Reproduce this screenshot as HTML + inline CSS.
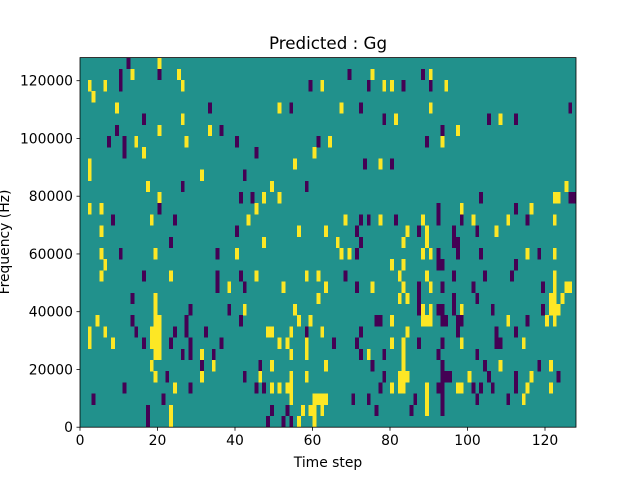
<!DOCTYPE html>
<html><head><meta charset="utf-8"><style>
html,body{margin:0;padding:0;background:#fff;}
svg{display:block;font-family:"DejaVu Sans","Liberation Sans",sans-serif;}
</style></head><body>
<svg id="s" width="640" height="480" xmlns="http://www.w3.org/2000/svg">
<rect x="0" y="0" width="640" height="480" fill="#fff"/>
<rect x="80" y="57.6" width="496" height="369.6" fill="#21918c"/>
<g id="cells" shape-rendering="crispEdges"></g>
<rect x="80" y="57.6" width="496" height="369.6" fill="none" stroke="#000" stroke-width="0.8"/>
<text x="328" y="49" font-size="16.7" text-anchor="middle">Predicted : Gg</text>
<g id="ticks" font-size="13.9" fill="#000"></g>
<text x="328" y="467" font-size="13.9" text-anchor="middle">Time step</text>
<text transform="translate(9,242) rotate(-90)" font-size="13.9" text-anchor="middle">Frequency (Hz)</text>
</svg>
<script>
var rows=[
"P12 Y20",
"P10 Y13 P20 Y25 P69 Y75 P88 Y90",
"P10 Y2 Y6 Y26 P59 Y62 P74 Y78 Y80 P83 P90 Y94",
"Y3",
"Y9 P33 Y51 P54 Y67 P72 Y90 P126",
"P16 Y26 P78 Y81 P105 Y108 P112",
"P9 Y20 Y33 P36 P93 Y97",
"P7 P11 Y14 Y27 P40 P61 Y64 P89 Y93",
"P11 Y16 P45 Y60",
"Y2 Y55 P73 Y77 P80",
"Y2 Y31 P42",
"Y17 P26 Y49 P58 Y125",
"Y20 P41 P44 Y47 Y51 P103 Y122 Y123 P126 P127",
"Y2 Y5 P20 Y45 P92 Y98 P112 Y116",
"P8 Y18 P24 Y43 Y68 P72 P74 Y77 P81 Y88 P92 P98 Y101 Y110 P115 Y122",
"Y5 P40 Y56 Y63 P71 Y84 P87 Y89 P96 P102 Y107",
"P23 Y47 Y66 P72 Y83 Y89 P96 P97",
"Y5 P10 Y19 P35 Y40 Y67 Y69 P71 Y88 Y90 P92 P97 P103 Y115 P118 Y122",
"Y6 Y80 Y83 P92 P93 P112",
"Y5 P16 Y23 P35 P41 Y45 Y58 Y61 P68 Y82 Y89 P96 P104 P111 Y122",
"P35 Y38 P42 Y52 Y63 P71 Y75 Y83 P87 Y90 P93 P101 P119 Y122 Y125 Y126",
"P13 Y19 Y61 Y82 Y84 P87 P96 P102 Y121 Y122 Y124",
"P28 Y19 P38 Y42 Y55 P87 Y88 Y90 P92 P93 P96 Y98 P106 P119 Y121 Y122 Y123",
"Y4 P13 Y19 Y20 P27 P41 Y56 Y59 P76 P77 Y80 Y88 Y89 Y90 P93 P94 P97 P98 Y110 P115 Y120 Y122",
"Y2 Y6 P14 Y18 Y19 Y20 P24 P27 P32 Y48 Y49 Y54 P58 Y62 P72 Y84 P97 P107 P112",
"Y2 Y8 P16 Y18 Y19 Y20 P23 P28 P36 Y51 Y53 Y58 P65 P71 Y80 Y83 P87 P93 Y98 P107 P108 Y114",
"Y19 Y20 P26 P28 Y31 P34 Y54 Y58 P72 Y74 P78 Y83 P92 P102",
"Y18 P31 Y34 P46 Y49 Y63 P75 Y83 P93 P104 Y108 P118 Y121",
"Y19 P22 Y31 P42 Y46 Y54 Y58 P78 Y82 Y83 Y84 P93 P94 P95 Y100 P105 P112 Y116 P123",
"P11 Y24 P28 P45 P47 Y49 Y51 Y53 Y54 P77 Y80 Y82 Y83 Y89 P92 P93 Y97 Y98 P101 P103 P106 P112 Y115 Y121",
"P3 P21 Y54 Y60 Y61 Y62 Y63 P70 P74 P86 P93 Y89 P102 P110 Y114",
"P17 Y23 P49 P53 Y57 Y59 Y60 Y62 Y89 P76 P85 P93",
"P17 Y23 P48 P52 P54 Y56 Y60"];
var NS="http://www.w3.org/2000/svg",g=document.getElementById("cells");
var cw=496/128,rh=369.6/33;
rows.forEach(function(s,r){s.split(" ").forEach(function(t){
 if(!t)return;var c=+t.slice(1),e=document.createElementNS(NS,"rect");
 e.setAttribute("x",80+c*cw);e.setAttribute("y",57.6+r*rh);
 e.setAttribute("width",cw+0.05);e.setAttribute("height",rh+0.05);
 e.setAttribute("fill",t[0]=="P"?"#440154":"#fde725");g.appendChild(e);});});
var tk=document.getElementById("ticks"),h="";
for(var v=0;v<=120;v+=20){var x=80+v*cw;
 h+='<line x1="'+x+'" y1="427.2" x2="'+x+'" y2="430.7" stroke="#000" stroke-width="0.8"/>';
 h+='<text x="'+x+'" y="445" text-anchor="middle">'+v+'</text>';}
for(var f=0;f<=120000;f+=20000){var y=427.2-f/128000*369.6;
 h+='<line x1="76.5" y1="'+y+'" x2="80" y2="'+y+'" stroke="#000" stroke-width="0.8"/>';
 h+='<text x="73" y="'+(y+5)+'" text-anchor="end">'+f+'</text>';}
tk.innerHTML=h;
</script>
</body></html>
